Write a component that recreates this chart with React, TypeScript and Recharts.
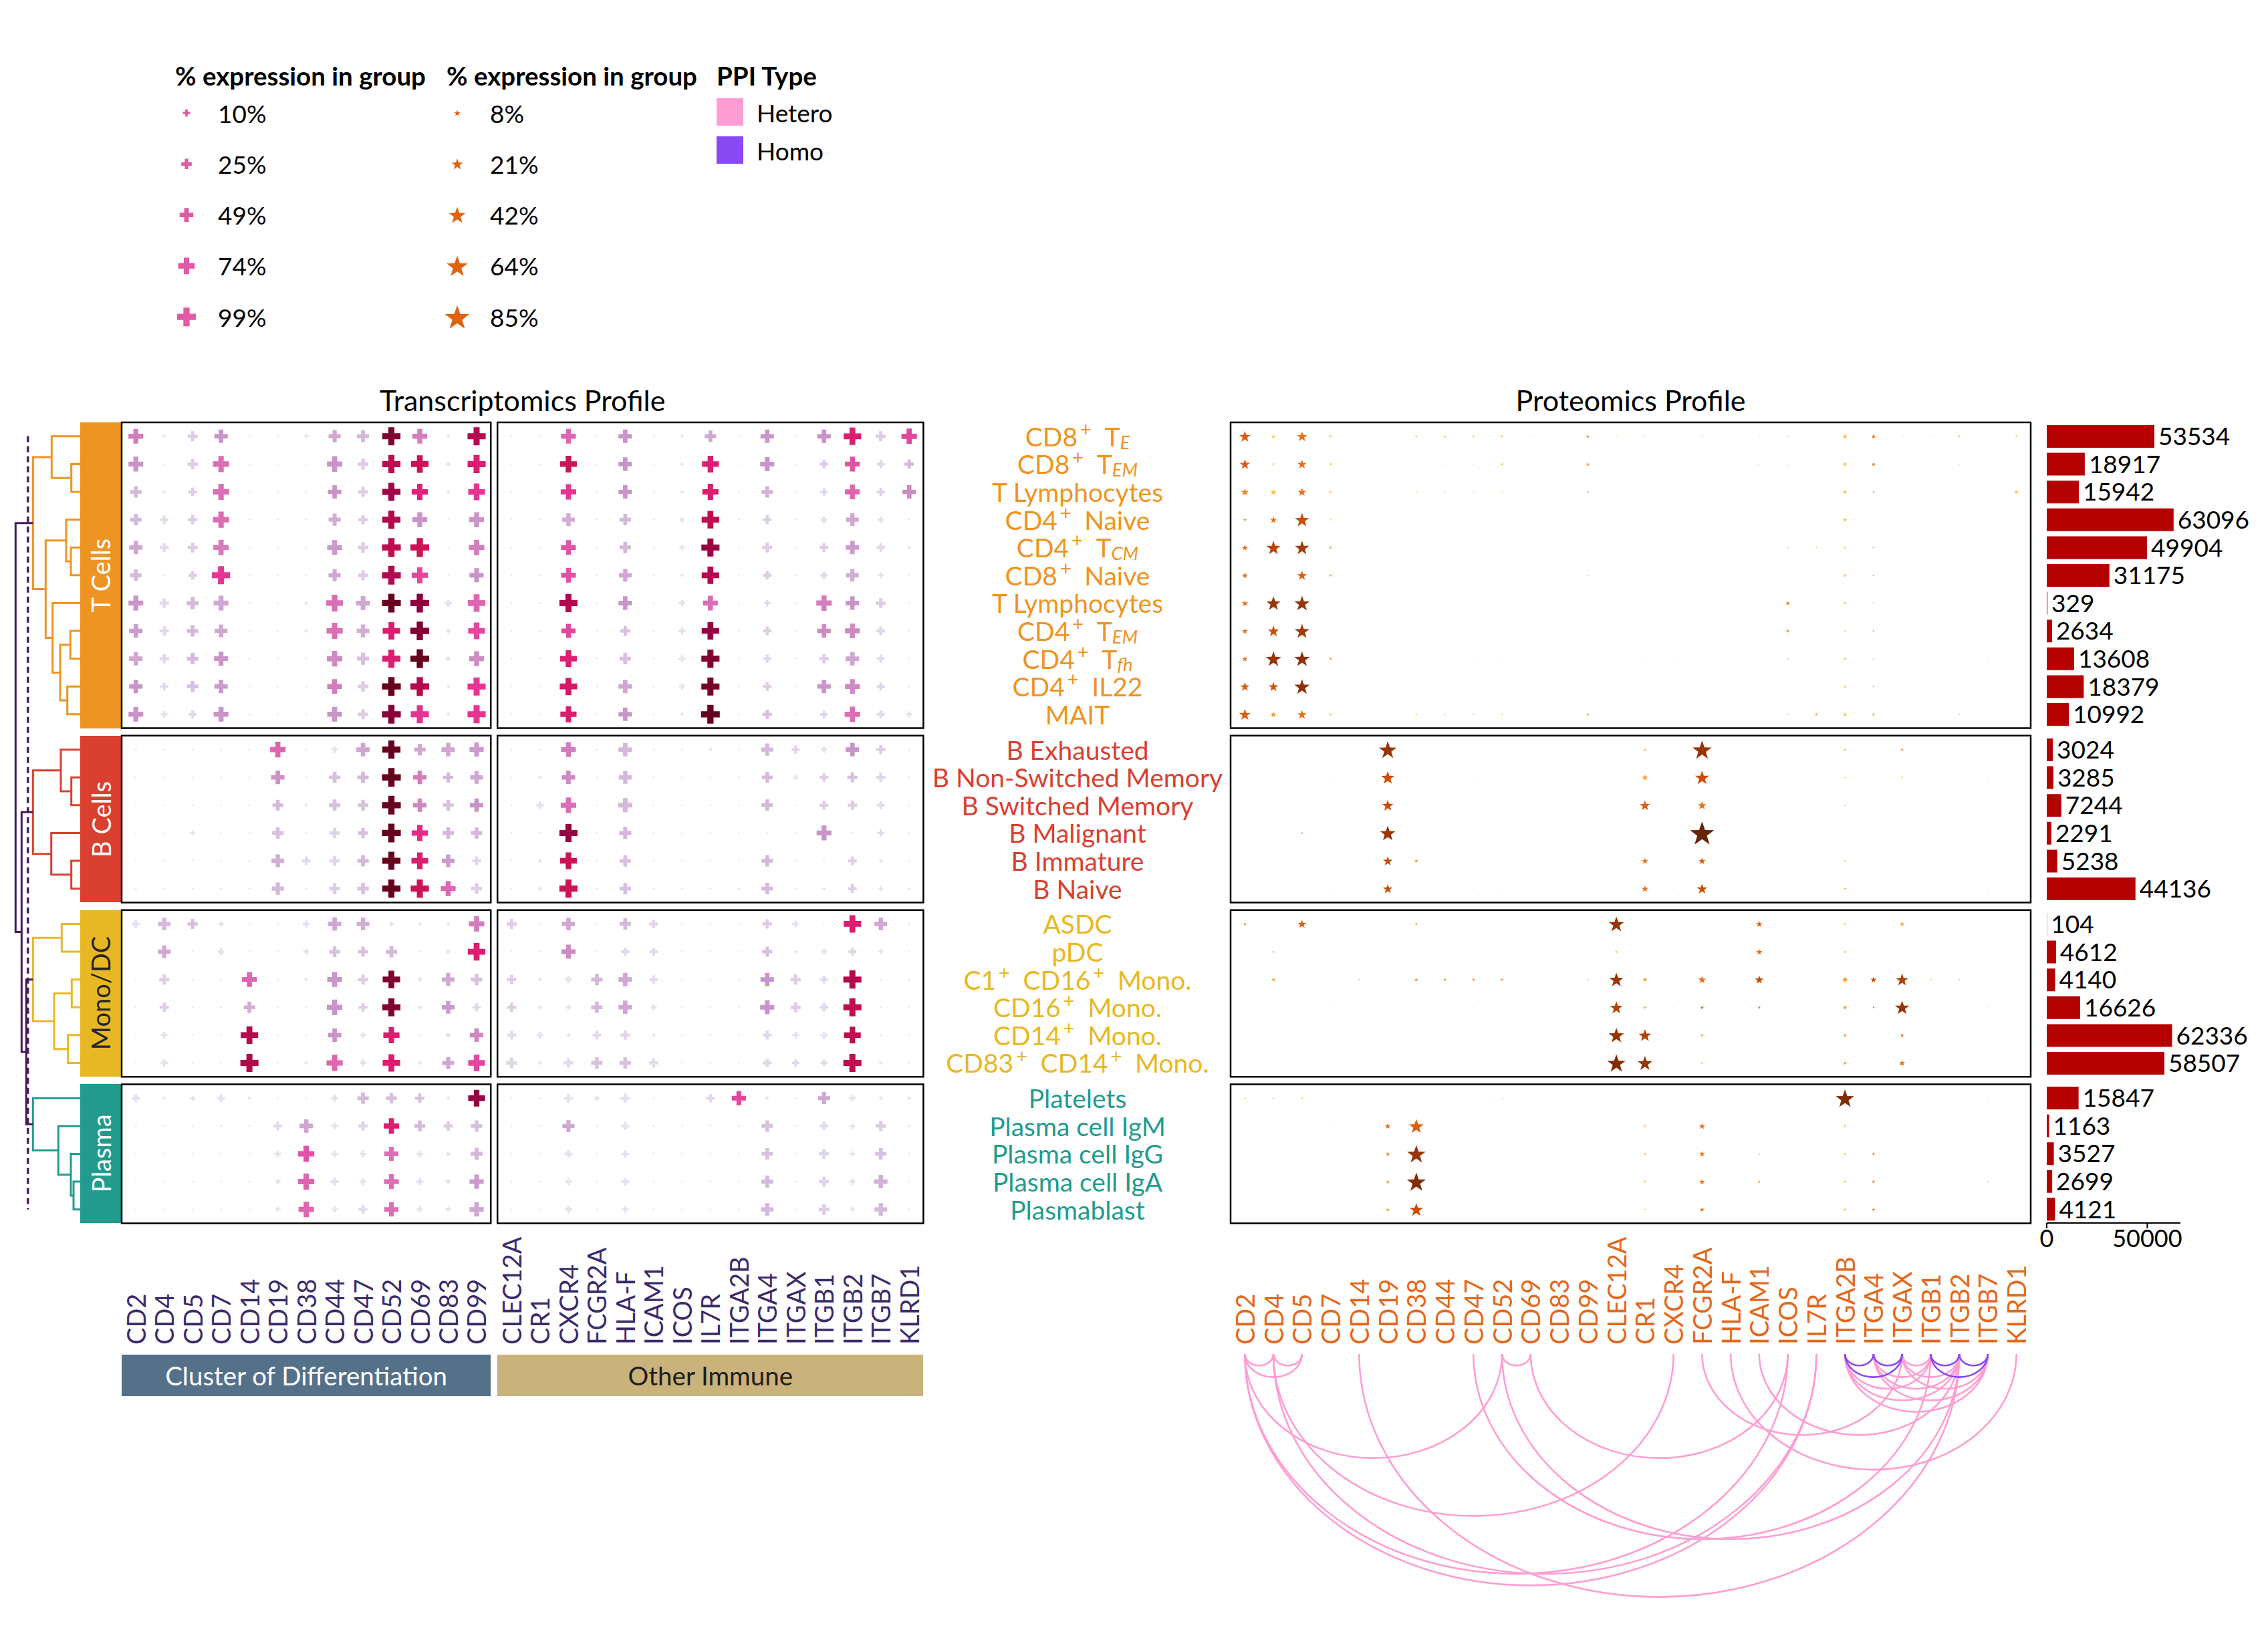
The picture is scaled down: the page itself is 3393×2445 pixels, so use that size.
import React from "react";
import { ScatterChart, Scatter, XAxis, YAxis, ReferenceArea, ReferenceLine, BarChart, Bar, LabelList } from "recharts";

const FONT = "Lato, 'Open Sans', sans-serif";

// ---------- categories ----------
const cdGenes = ["CD2", "CD4", "CD5", "CD7", "CD14", "CD19", "CD38", "CD44", "CD47", "CD52", "CD69", "CD83", "CD99"];
const otherGenes = ["CLEC12A", "CR1", "CXCR4", "FCGR2A", "HLA-F", "ICAM1", "ICOS", "IL7R", "ITGA2B", "ITGA4", "ITGAX", "ITGB1", "ITGB2", "ITGB7", "KLRD1"];
const genes = [...cdGenes, ...otherGenes];

const groupNames = ["T Cells", "B Cells", "Mono/DC", "Plasma"];
const groupSizes = [11, 6, 6, 5];
const groupColors = ["#ee9422", "#d94030", "#e8b824", "#229b8e"];
const groupTextColors = ["#ffffff", "#ffffff", "#262626", "#ffffff"];

// {x} = superscript, [x] = subscript
const cellTypes = [
  "CD8{+}\u2002T[E]", "CD8{+}\u2002T[EM]", "T Lymphocytes", "CD4{+}\u2002Naive", "CD4{+}\u2002T[CM]", "CD8{+}\u2002Naive",
  "T Lymphocytes", "CD4{+}\u2002T[EM]", "CD4{+}\u2002T[fh]", "CD4{+}\u2002IL22", "MAIT",
  "B Exhausted", "B Non-Switched Memory", "B Switched Memory", "B Malignant", "B Immature", "B Naive",
  "ASDC", "pDC", "C1{+}\u2002CD16{+}\u2002Mono.", "CD16{+}\u2002Mono.", "CD14{+}\u2002Mono.", "CD83{+}\u2002CD14{+}\u2002Mono.",
  "Platelets", "Plasma cell IgM", "Plasma cell IgG", "Plasma cell IgA", "Plasmablast",
];

const cellCounts = [53534, 18917, 15942, 63096, 49904, 31175, 329, 2634, 13608, 18379, 10992,
  3024, 3285, 7244, 2291, 5238, 44136,
  104, 4612, 4140, 16626, 62336, 58507,
  15847, 1163, 3527, 2699, 4121];

// ---------- transcriptomics: % expression in group ----------
const rnaPctT = [
  [58, 1, 23, 46, 0, 0, 3, 36, 36, 92, 58, 1, 92, 0, 0, 58, 0, 46, 0, 1, 31, 0, 46, 0, 46, 85, 23, 64],
  [58, 0, 23, 71, 0, 0, 0, 64, 27, 92, 85, 3, 92, 0, 0, 77, 0, 46, 0, 1, 77, 0, 52, 0, 16, 58, 13, 19],
  [31, 1, 16, 71, 0, 0, 0, 46, 23, 92, 71, 1, 77, 0, 0, 64, 0, 46, 0, 1, 71, 0, 31, 0, 10, 58, 13, 46],
  [31, 13, 19, 71, 0, 0, 0, 36, 19, 92, 58, 0, 58, 0, 0, 41, 0, 31, 0, 4, 85, 0, 16, 0, 8, 41, 8, 0],
  [46, 16, 23, 64, 0, 0, 0, 58, 27, 99, 99, 0, 64, 0, 0, 58, 0, 31, 0, 4, 92, 0, 23, 0, 16, 46, 16, 1],
  [31, 0, 16, 92, 0, 0, 0, 36, 23, 99, 71, 0, 52, 0, 0, 58, 0, 41, 0, 1, 85, 0, 16, 0, 10, 41, 6, 0],
  [58, 19, 36, 58, 0, 0, 1, 77, 52, 99, 99, 10, 85, 0, 0, 92, 0, 46, 0, 6, 58, 0, 8, 0, 64, 46, 23, 0],
  [46, 19, 31, 41, 0, 0, 1, 71, 41, 85, 99, 3, 77, 0, 0, 52, 0, 23, 0, 10, 85, 0, 16, 0, 46, 58, 16, 0],
  [46, 19, 31, 52, 0, 0, 0, 64, 36, 92, 99, 3, 58, 0, 0, 77, 0, 31, 0, 8, 92, 0, 13, 0, 19, 46, 13, 0],
  [46, 13, 31, 46, 0, 0, 0, 58, 27, 99, 99, 1, 92, 0, 0, 85, 0, 46, 0, 6, 92, 0, 16, 0, 46, 58, 13, 0],
  [58, 8, 13, 58, 0, 0, 0, 58, 23, 99, 92, 1, 92, 0, 0, 71, 0, 46, 0, 1, 99, 0, 19, 0, 10, 64, 13, 6],
];
const rnaPctB = [
  [0, 0, 0, 0, 0, 64, 0, 8, 46, 92, 31, 46, 52, 0, 0, 58, 0, 46, 0, 0, 1, 0, 36, 13, 8, 46, 19, 0],
  [0, 0, 0, 0, 0, 46, 0, 31, 31, 99, 46, 23, 41, 0, 1, 46, 0, 41, 0, 0, 0, 0, 27, 4, 16, 23, 19, 0],
  [0, 0, 0, 0, 0, 27, 1, 31, 27, 99, 46, 27, 46, 0, 10, 64, 0, 52, 0, 0, 0, 0, 31, 0, 16, 19, 13, 0],
  [0, 0, 4, 0, 0, 31, 0, 23, 23, 99, 71, 31, 31, 0, 0, 92, 0, 36, 0, 0, 0, 0, 0, 0, 58, 0, 8, 0],
  [0, 0, 0, 0, 0, 41, 16, 23, 31, 92, 77, 41, 16, 0, 1, 77, 0, 31, 0, 0, 0, 0, 31, 0, 0, 16, 1, 0],
  [0, 0, 0, 0, 0, 36, 0, 27, 31, 92, 92, 58, 27, 0, 1, 92, 0, 31, 0, 0, 0, 0, 31, 0, 1, 16, 3, 0],
];
const rnaPctMono = [
  [13, 41, 23, 4, 0, 0, 8, 46, 41, 3, 1, 1, 64, 23, 0, 41, 0, 31, 16, 0, 0, 0, 19, 8, 0, 85, 41, 0],
  [0, 41, 0, 8, 0, 0, 6, 27, 23, 31, 0, 3, 85, 0, 0, 52, 0, 13, 13, 0, 0, 0, 23, 1, 6, 13, 3, 0],
  [0, 23, 0, 0, 58, 0, 1, 58, 23, 85, 3, 41, 31, 19, 1, 10, 31, 46, 13, 0, 0, 0, 46, 23, 13, 92, 0, 0],
  [0, 19, 0, 0, 31, 0, 0, 64, 16, 92, 1, 41, 13, 19, 1, 4, 31, 46, 6, 0, 0, 0, 52, 23, 16, 92, 0, 0],
  [0, 8, 0, 0, 85, 0, 0, 46, 4, 71, 0, 4, 46, 16, 8, 1, 16, 19, 1, 0, 0, 0, 16, 8, 10, 77, 0, 0],
  [0, 10, 0, 0, 92, 0, 1, 71, 8, 85, 1, 36, 77, 27, 1, 19, 31, 31, 19, 0, 0, 0, 16, 10, 8, 92, 1, 0],
];
const rnaPctPlasma = [
  [13, 1, 4, 13, 1, 0, 0, 10, 31, 27, 19, 1, 77, 0, 0, 16, 4, 19, 0, 0, 16, 52, 1, 0, 36, 8, 1, 1],
  [0, 0, 0, 0, 0, 16, 46, 8, 19, 64, 27, 19, 31, 0, 0, 36, 0, 13, 0, 0, 0, 0, 31, 0, 13, 4, 23, 0],
  [0, 0, 0, 0, 0, 8, 71, 8, 8, 52, 8, 3, 36, 0, 0, 13, 0, 10, 0, 0, 0, 0, 31, 0, 23, 4, 31, 0],
  [0, 0, 0, 0, 0, 4, 71, 13, 8, 58, 10, 4, 52, 0, 0, 8, 0, 13, 0, 0, 0, 0, 36, 0, 23, 6, 46, 0],
  [0, 0, 0, 0, 0, 4, 64, 6, 16, 52, 6, 4, 52, 0, 0, 10, 0, 8, 0, 0, 0, 0, 41, 0, 27, 3, 41, 0],
];

// ---------- transcriptomics: scaled average expression (0-8) ----------
const rnaExprT = [
  [3.5, 1, 1.5, 3, .5, .5, 1, 2.5, 2, 7.5, 3.5, 1, 6.5, .5, .5, 4, .5, 3, .5, 1, 2.5, .5, 3, .5, 3, 5.5, 1.5, 4.5],
  [3, .5, 1.5, 3.8, .5, .5, .5, 3, 1.5, 6.3, 6, 1, 5.5, .5, .5, 6, .5, 3, .5, 1, 5.5, .5, 3, .5, 1.5, 4.3, 1.3, 2],
  [2, 1, 1.5, 3.8, .5, .5, .5, 3, 1.5, 6.8, 5.3, 1, 4.8, .5, .5, 4.8, .5, 3, .5, 1, 5.5, .5, 2.2, .5, 1.3, 4, 1.3, 3.2],
  [2, 1.2, 1.5, 3.8, .5, .5, .5, 2.3, 1.5, 6.5, 3, .5, 3, .5, .5, 2.3, .5, 2, .5, 1, 6.3, .5, 1.5, .5, 1.2, 2.5, 1, .5],
  [2.5, 1.2, 1.5, 3.5, .5, .5, .5, 2.8, 1.5, 6.3, 6, .5, 3.5, .5, .5, 4.3, .5, 2, .5, 1, 7, .5, 1.5, .5, 1.5, 2.8, 1.2, 1],
  [2, .5, 1.5, 4.8, .5, .5, .5, 2.5, 1.5, 6.5, 4.5, .5, 3, .5, .5, 4.3, .5, 2.5, .5, 1, 6.5, .5, 1.5, .5, 1.2, 2.3, 1, .5],
  [3, 1.2, 2, 2.5, .5, .5, 1, 3.8, 2.5, 8, 7.2, 1, 4, .5, .5, 6.5, .5, 3, .5, 1, 3.8, .5, 1.2, .5, 3.5, 3, 1.5, .5],
  [2.8, 1.2, 2, 2.5, .5, .5, 1, 3.8, 2.3, 5.5, 7.5, 1, 4.5, .5, .5, 4.5, .5, 1.8, .5, 1, 7, .5, 1.5, .5, 3.2, 3.2, 1.3, .5],
  [2.5, 1.2, 2, 3, .5, .5, .5, 3.2, 1.8, 5.5, 8, 1, 3.2, .5, .5, 5.5, .5, 1.8, .5, 1, 7.5, .5, 1.3, .5, 1.5, 2.5, 1.2, .5],
  [3, 1.2, 1.8, 2.8, .5, .5, .5, 3.5, 1.5, 8.2, 6.5, 1, 4.8, .5, .5, 5.7, .5, 2.5, .5, 1, 7.7, .5, 1.5, .5, 3, 3.2, 1.3, .5],
  [3, 1, 1.3, 3, .5, .5, .5, 3, 1.5, 7.3, 4.8, 1, 4.8, .5, .5, 5.5, .5, 3, .5, 1, 8.3, .5, 1.8, .5, 1.3, 3.8, 1.2, 1],
];
const rnaExprB = [
  [.5, .5, .5, .5, .5, 4, .5, 1, 2.5, 8.5, 2.5, 2.5, 2.8, .5, .5, 3.5, .5, 2, .5, .5, 1, .5, 2, 1.3, 1, 3, 1.5, .5],
  [.5, .5, .5, .5, .5, 3, .5, 1.8, 2, 8.5, 3.5, 2, 2.5, .5, 1, 3.2, .5, 2, .5, .5, .5, .5, 2, 1, 1.5, 1.8, 1.3, .5],
  [.5, .5, .5, .5, .5, 2, .5, 1.8, 1.8, 8.5, 3.3, 1.8, 3, .5, 1, 3.8, .5, 2, .5, .5, .5, .5, 2, .5, 1.5, 1.5, 1.2, .5],
  [.5, .5, 1, .5, .5, 1.8, .5, 1.3, 1.8, 8.5, 5, 2, 2, .5, .5, 7, .5, 2, .5, .5, .5, .5, .5, .5, 3, .5, 1.2, .5],
  [.5, .5, .5, .5, .5, 2.3, 1.2, 1.3, 2, 8.5, 5.5, 2.8, 1.3, .5, 1, 6, .5, 1.8, .5, .5, .5, .5, 2, .5, .5, 1.5, 1, .5],
  [.5, .5, .5, .5, .5, 2, .5, 1.5, 1.8, 8.5, 6, 4, 1.5, .5, 1, 6, .5, 1.8, .5, .5, .5, .5, 2, .5, 1, 1.5, 1, .5],
];
const rnaExprMono = [
  [1, 2, 1.8, 1, .5, .5, 1, 2.5, 2.3, 1, 1, 1, 3.5, 1.5, .5, 2.5, .5, 2, 1.3, .5, .5, .5, 1.5, 1, .5, 5.5, 2.5, .5],
  [.5, 2.5, .5, 1, .5, .5, 1, 1.8, 1.8, 2, .5, 1, 5.5, .5, .5, 3.2, .5, 1.3, 1.2, .5, .5, .5, 1.8, 1, 1, 1.3, 1, .5],
  [.5, 1.5, .5, .5, 4, .5, 1, 3, 1.5, 7.5, 1, 2.5, 1.8, 1.5, 1, 1, 2, 2.5, 1.2, .5, .5, .5, 3, 1.5, 1.2, 6.5, .5, .5],
  [.5, 1.5, .5, .5, 2.3, .5, .5, 3, 1.5, 7.5, 1, 2.8, 1.2, 1.5, 1, 1, 2, 2.5, 1, .5, .5, .5, 3, 1.5, 1.2, 6.3, .5, .5],
  [.5, 1, .5, .5, 6.5, .5, .5, 3, 1, 5.5, .5, 1, 3.3, 1.2, 1, 1, 1.2, 1.3, 1, .5, .5, .5, 1.3, 1, 1, 6.3, .5, .5],
  [.5, 1, .5, .5, 6.5, .5, 1, 4, 1, 5.5, 1, 2.5, 4.5, 1.3, 1, 1.2, 1.8, 1.8, 1.2, .5, .5, .5, 1.3, 1.2, 1.2, 6.3, 1, .5],
];
const rnaExprPlasma = [
  [1, 1, 1, 1, 1, .5, .5, 1, 2, 1.8, 1.8, 1, 7, .5, .5, 1, 1, 1, .5, .5, 1.2, 4.5, 1, .5, 2.5, 1, 1, 1],
  [.5, .5, .5, .5, .5, 1.2, 2.5, 1, 1.3, 5.5, 2, 1.5, 1.8, .5, .5, 2.5, .5, 1, .5, .5, .5, .5, 1.8, .5, 1.2, 1, 1.5, .5],
  [.5, .5, .5, .5, .5, 1, 4.3, 1, 1, 3.8, 1, 1, 2, .5, .5, 1, .5, 1, .5, .5, .5, .5, 1.8, .5, 1.3, 1, 1.8, .5],
  [.5, .5, .5, .5, .5, 1, 4, 1, 1, 3.8, 1, 1, 2.8, .5, .5, 1, .5, 1, .5, .5, .5, .5, 2, .5, 1.3, 1, 2.2, .5],
  [.5, .5, .5, .5, .5, 1, 4, 1, 1.2, 3.8, 1, 1, 2.5, .5, .5, 1, .5, 1, .5, .5, .5, .5, 2, .5, 1.5, 1, 2, .5],
];

// ---------- proteomics: % expression in group ----------
const protPctT = [
  [21, 5, 18, 3, 1, 1, 3, 3, 3, 3, 2, 1, 4, 2, 2, 1, 2, 1, 2, 2, 1, 7, 5, 2, 2, 3, 1, 3],
  [18, 3, 15, 3, 1, 1, 2, 2, 2, 3, 1, 1, 4, 1, 1, 1, 1, 1, 2, 2, 2, 5, 4, 1, 1, 2, 1, 2],
  [11, 8, 13, 3, 1, 1, 2, 2, 2, 2, 1, 1, 2, 1, 1, 1, 1, 1, 1, 1, 1, 5, 2, 1, 1, 1, 1, 5],
  [3, 9, 31, 2, 1, 1, 1, 1, 1, 1, 1, 1, 1, 1, 1, 1, 1, 1, 1, 1, 1, 5, 1, 1, 1, 1, 1, 1],
  [8, 31, 31, 3, 1, 1, 1, 1, 1, 1, 1, 1, 1, 1, 1, 1, 1, 1, 1, 2, 2, 3, 2, 1, 1, 1, 1, 1],
  [8, 1, 16, 3, 1, 1, 1, 1, 1, 1, 1, 1, 2, 1, 1, 1, 1, 1, 1, 1, 1, 4, 2, 1, 1, 1, 1, 1],
  [8, 31, 36, 1, 1, 1, 1, 1, 1, 1, 1, 1, 1, 1, 1, 1, 1, 1, 1, 5, 1, 3, 2, 1, 1, 1, 1, 1],
  [7, 21, 33, 1, 1, 1, 1, 1, 1, 1, 1, 1, 1, 1, 1, 1, 1, 1, 1, 4, 1, 2, 2, 1, 1, 1, 1, 1],
  [7, 36, 36, 3, 1, 1, 1, 1, 1, 1, 1, 1, 1, 1, 1, 1, 1, 1, 1, 2, 1, 3, 2, 1, 1, 1, 1, 1],
  [15, 16, 36, 1, 1, 1, 1, 1, 1, 1, 1, 1, 1, 1, 1, 1, 1, 1, 1, 1, 1, 3, 2, 1, 1, 1, 1, 1],
  [21, 8, 15, 3, 1, 1, 2, 2, 2, 2, 1, 1, 3, 1, 1, 1, 1, 1, 1, 2, 3, 5, 3, 1, 1, 2, 1, 1],
];
const protPctB = [
  [1, 1, 1, 1, 1, 46, 1, 1, 1, 1, 1, 1, 1, 1, 3, 1, 53, 1, 1, 1, 1, 3, 1, 3, 1, 1, 1, 1],
  [1, 1, 1, 1, 1, 28, 1, 1, 1, 1, 1, 1, 1, 1, 8, 1, 31, 1, 1, 1, 1, 2, 1, 2, 1, 1, 1, 1],
  [1, 1, 1, 1, 1, 21, 1, 1, 1, 1, 1, 1, 1, 1, 18, 1, 13, 1, 1, 1, 1, 2, 1, 1, 1, 1, 1, 1],
  [1, 1, 2, 1, 1, 36, 1, 1, 1, 1, 1, 1, 1, 1, 1, 1, 82, 1, 1, 1, 1, 1, 1, 1, 1, 1, 1, 1],
  [1, 1, 1, 1, 1, 16, 4, 1, 1, 1, 1, 1, 1, 1, 8, 1, 9, 1, 1, 1, 1, 2, 1, 1, 1, 1, 1, 1],
  [1, 1, 1, 1, 1, 16, 1, 1, 1, 1, 1, 1, 1, 1, 9, 1, 18, 1, 1, 1, 1, 3, 1, 1, 1, 1, 1, 1],
];
const protPctMono = [
  [3, 1, 13, 1, 1, 1, 3, 1, 1, 1, 1, 1, 1, 36, 1, 1, 1, 1, 8, 1, 1, 3, 1, 5, 1, 1, 1, 1],
  [1, 2, 1, 1, 1, 1, 1, 1, 1, 1, 1, 1, 1, 3, 1, 1, 1, 1, 8, 1, 1, 3, 1, 1, 1, 1, 1, 1],
  [1, 4, 1, 1, 2, 1, 4, 3, 3, 3, 1, 1, 2, 31, 5, 1, 11, 1, 13, 1, 1, 8, 7, 25, 2, 2, 1, 1],
  [1, 1, 1, 1, 1, 1, 1, 1, 1, 1, 1, 1, 1, 25, 3, 1, 4, 1, 3, 1, 1, 5, 2, 31, 1, 1, 1, 1],
  [1, 1, 1, 1, 1, 1, 1, 1, 1, 1, 1, 1, 1, 36, 25, 1, 3, 1, 1, 1, 1, 4, 1, 4, 1, 1, 1, 1],
  [1, 1, 1, 1, 1, 1, 1, 1, 1, 1, 1, 1, 1, 49, 33, 1, 2, 1, 1, 1, 1, 4, 1, 8, 1, 1, 1, 1],
];
const protPctPlasma = [
  [2, 2, 3, 1, 1, 1, 1, 1, 1, 2, 1, 1, 1, 1, 1, 1, 1, 1, 1, 1, 1, 49, 1, 1, 1, 1, 1, 1],
  [1, 1, 1, 1, 1, 7, 33, 1, 1, 1, 1, 1, 1, 1, 3, 1, 8, 1, 1, 1, 1, 3, 1, 1, 1, 1, 1, 1],
  [1, 1, 1, 1, 1, 5, 49, 1, 1, 1, 1, 1, 1, 1, 3, 1, 7, 1, 2, 1, 1, 3, 3, 1, 1, 1, 1, 1],
  [1, 1, 1, 1, 1, 4, 53, 1, 1, 1, 1, 1, 1, 1, 3, 1, 7, 1, 3, 1, 1, 3, 3, 1, 1, 1, 2, 1],
  [1, 1, 1, 1, 1, 4, 28, 1, 1, 1, 1, 1, 1, 1, 2, 1, 5, 1, 1, 1, 1, 3, 3, 1, 1, 1, 1, 1],
];

// ---------- proteomics: scaled average expression (0-8) ----------
const protExprT = [
  [5.5, 3, 5, 3, 2, 2, 3, 3, 3, 3, 2, 2, 4, 2, 2, 2, 2, 2, 2, 3, 2, 3, 5, 2, 2, 3, 2, 2.5],
  [5.5, 2.5, 5, 3, 2, 2, 2, 2, 2, 3, 2, 2, 4, 2, 2, 2, 2, 2, 2, 2, 2, 3, 5, 2, 2, 2, 2, 2],
  [4.5, 3, 5, 3, 2, 2, 2, 2, 2, 2, 2, 2, 4, 2, 2, 2, 2, 2, 2, 2, 2, 3, 4, 2, 2, 2, 2, 3],
  [4.5, 5, 6, 3, 2, 2, 2, 2, 2, 2, 2, 2, 2, 2, 2, 2, 2, 2, 2, 2, 2, 3, 2, 2, 2, 2, 2, 2],
  [5, 6.3, 6.8, 4, 2, 2, 2, 2, 2, 2, 2, 2, 2, 2, 2, 2, 2, 2, 2, 3, 3, 3, 4, 2, 2, 2, 2, 2],
  [5, 2, 5.5, 4, 2, 2, 2, 2, 2, 2, 2, 2, 3, 2, 2, 2, 2, 2, 2, 2, 2, 3, 4, 2, 2, 2, 2, 2],
  [5, 7, 7, 2, 2, 2, 2, 2, 2, 2, 2, 2, 2, 2, 2, 2, 2, 2, 2, 4.5, 2, 3, 3, 2, 2, 2, 2, 2],
  [5, 6, 6.8, 2, 2, 2, 2, 2, 2, 2, 2, 2, 2, 2, 2, 2, 2, 2, 2, 4, 2, 3, 4, 2, 2, 2, 2, 2],
  [5, 7, 7.2, 4, 2, 2, 2, 2, 2, 2, 2, 2, 2, 2, 2, 2, 2, 2, 2, 3, 2, 3, 3, 2, 2, 2, 2, 2],
  [5.5, 5.8, 7.2, 2, 2, 2, 2, 2, 2, 2, 2, 2, 2, 2, 2, 2, 2, 2, 2, 2, 2, 3, 4, 2, 2, 2, 2, 2],
  [5.5, 4, 5, 3, 2, 2, 3, 3, 3, 3, 2, 2, 4, 2, 2, 2, 2, 2, 2, 3, 4, 3, 4, 2, 2, 3, 2, 2],
];
const protExprB = [
  [2, 2, 2, 2, 2, 7, 2, 2, 2, 2, 2, 2, 2, 2, 3, 2, 7, 2, 2, 2, 2, 3, 2, 4, 2, 2, 2, 2],
  [2, 2, 2, 2, 2, 6, 2, 2, 2, 2, 2, 2, 2, 2, 4, 2, 6, 2, 2, 2, 2, 3, 2, 3, 2, 2, 2, 2],
  [2, 2, 2, 2, 2, 6, 2, 2, 2, 2, 2, 2, 2, 2, 5.5, 2, 5, 2, 2, 2, 2, 3, 2, 2, 2, 2, 2, 2],
  [2, 2, 5, 2, 2, 7, 2, 2, 2, 2, 2, 2, 2, 2, 2, 2, 8.5, 2, 2, 2, 2, 2, 2, 2, 2, 2, 2, 2],
  [2, 2, 2, 2, 2, 6, 4, 2, 2, 2, 2, 2, 2, 2, 5, 2, 5.5, 2, 2, 2, 2, 3, 2, 2, 2, 2, 2, 2],
  [2, 2, 2, 2, 2, 6, 2, 2, 2, 2, 2, 2, 2, 2, 5, 2, 6, 2, 2, 2, 2, 3, 2, 2, 2, 2, 2, 2],
];
const protExprMono = [
  [5, 2, 5.5, 2, 2, 2, 4, 2, 2, 2, 2, 2, 2, 7, 2, 2, 2, 2, 5.5, 2, 2, 3, 2, 4, 2, 2, 2, 2],
  [2, 4, 2, 2, 2, 2, 2, 2, 2, 2, 2, 2, 2, 3, 2, 2, 2, 2, 5, 2, 2, 3, 2, 2, 2, 2, 2, 2],
  [2, 4, 2, 2, 3, 2, 4, 4, 4, 4, 2, 2, 3, 7, 4, 2, 5, 2, 6, 2, 2, 4, 6, 6.5, 3, 3, 2, 2],
  [2, 2, 2, 2, 2, 2, 2, 2, 2, 2, 2, 2, 2, 6.5, 4, 2, 5, 2, 5, 2, 2, 4, 5, 7, 2, 2, 2, 2],
  [2, 2, 2, 2, 2, 2, 2, 2, 2, 2, 2, 2, 2, 7, 6.5, 2, 4, 2, 2, 2, 2, 4, 2, 5, 2, 2, 2, 2],
  [2, 2, 2, 2, 2, 2, 2, 2, 2, 2, 2, 2, 2, 7.5, 7, 2, 4, 2, 2, 2, 2, 4, 2, 5, 2, 2, 2, 2],
];
const protExprPlasma = [
  [3, 3, 2.5, 2, 2, 2, 2, 2, 2, 2, 2, 2, 2, 2, 2, 2, 2, 2, 2, 2, 2, 7.5, 2, 2, 2, 2, 2, 2],
  [2, 2, 2, 2, 2, 5, 5.5, 2, 2, 2, 2, 2, 2, 2, 3, 2, 5, 2, 2, 2, 2, 3, 2, 2, 2, 2, 2, 2],
  [2, 2, 2, 2, 2, 4.5, 7, 2, 2, 2, 2, 2, 2, 2, 3, 2, 5, 2, 3, 2, 2, 3, 5, 2, 2, 2, 2, 2],
  [2, 2, 2, 2, 2, 4, 7.5, 2, 2, 2, 2, 2, 2, 2, 3, 2, 5, 2, 4, 2, 2, 3, 5, 2, 2, 2, 3, 2],
  [2, 2, 2, 2, 2, 4, 6, 2, 2, 2, 2, 2, 2, 2, 3, 2, 5, 2, 2, 2, 2, 3, 5, 2, 2, 2, 2, 2],
];

// ---------- dendrogram: [merge height, left, right], leaves are row indices ----------
const treeT = [70.7, [42.7, 0, [13.3, 1, 2]], [51.7, [21, 3, [14, 4, 5]], [41.3, 6, [30, [14.7, 7, 8], [19.3, 9, 10]]]]];
const treeB = [70.7, [29, 11, [13.3, 12, 13]], [43.3, 14, [13.3, 15, 16]]];
const treeMono = [70.7, [27.7, 17, 18], [39, [12.7, 19, 20], [18.3, 21, 22]]];
const treePlasma = [70.7, 23, [32.7, 24, [14, 25, [10, 26, 27]]]];
const dendrogram = [96.7, treeT, [87.7, treeB, [80.7, treeMono, treePlasma]]];
const cutHeight = 78.3;

// ---------- protein-protein interactions ----------
const ppiHetero = [
  ["CD2", "CD4"], ["CD4", "CD5"], ["CD2", "CD5"], ["CD52", "CD69"], ["CD2", "CD52"], ["CD69", "ICOS"],
  ["CD4", "CXCR4"], ["FCGR2A", "ITGAX"], ["ICAM1", "ITGB2"], ["HLA-F", "KLRD1"], ["CD47", "ITGB1"],
  ["CD52", "ITGB2"], ["CD2", "ICOS"], ["CD4", "IL7R"], ["CD2", "IL7R"], ["CD14", "ITGB2"],
  ["ITGA2B", "ITGB1"], ["ITGA2B", "ITGB2"], ["ITGA2B", "ITGB7"], ["ITGA4", "ITGB1"], ["ITGA4", "ITGB2"],
  ["ITGA4", "ITGB7"], ["ITGAX", "ITGB1"], ["ITGAX", "ITGB2"], ["ITGAX", "ITGB7"],
];
const ppiHomo = [["ITGA2B", "ITGA4"], ["ITGA4", "ITGAX"], ["ITGA2B", "ITGAX"], ["ITGB1", "ITGB2"], ["ITGB2", "ITGB7"], ["ITGB1", "ITGB7"]];

// ---------- legend values ----------
const rnaLegendPct = [10, 25, 49, 74, 99];
const protLegendPct = [8, 21, 42, 64, 85];

// ---------- layout ----------
const BAND = 41.6;
const GAP = 0.27;
const TOP = 632;
const Y_DOMAIN = [-0.5, 27.5 + 3 * GAP];
const PLOT_H = (Y_DOMAIN[1] - Y_DOMAIN[0]) * BAND;
const RNA_LEFT = 182;
const RNA_COL = 42.48;
const RNA_SPLIT = 0.235;
const RNA_DOMAIN = [-0.5, 27.5 + RNA_SPLIT];
const RNA_W = (RNA_DOMAIN[1] - RNA_DOMAIN[0]) * RNA_COL;
const PROT_LEFT = 1841;
const PROT_W = 1197;
const LABEL_X = 1612;
const AXIS_LABEL_BOTTOM = 2012;
const BAR_LEFT = 3062;
const BAR_PAD = 30;

const rowPos: number[] = [];
const groupOfRow: number[] = [];
groupSizes.forEach((n, gi) => {
  for (let k = 0; k < n; k++) {
    rowPos.push(rowPos.length + gi * GAP);
    groupOfRow.push(gi);
  }
});
const groupFirst = groupSizes.map((_, gi) => groupSizes.slice(0, gi).reduce((a, b) => a + b, 0));
const groupTop = groupFirst.map((f) => TOP + rowPos[f] * BAND);

const rnaX = genes.map((_, g) => (g < cdGenes.length ? g : g + RNA_SPLIT));
const protX = genes.map((_, g) => g);

const rnaPct = [...rnaPctT, ...rnaPctB, ...rnaPctMono, ...rnaPctPlasma];
const rnaExpr = [...rnaExprT, ...rnaExprB, ...rnaExprMono, ...rnaExprPlasma];
const protPct = [...protPctT, ...protPctB, ...protPctMono, ...protPctPlasma];
const protExpr = [...protExprT, ...protExprB, ...protExprMono, ...protExprPlasma];

const rnaPoints = rnaPct.flatMap((row, r) => row.map((p, g) => ({ x: rnaX[g], y: rowPos[r], pct: p, expr: rnaExpr[r][g] })));
const protPoints = protPct.flatMap((row, r) => row.map((p, g) => ({ x: protX[g], y: rowPos[r], pct: p, expr: protExpr[r][g] })));

// ---------- colours and marks ----------
const PuRd = ["#f7f4f9", "#e7e1ef", "#d4b9da", "#c994c7", "#df65b0", "#e7298a", "#ce1256", "#980043", "#67001f"];
const YlOrBr = ["#ffffe5", "#fff7bc", "#fee391", "#fec44f", "#fe9929", "#ec7014", "#cc4c02", "#993404", "#662506"];
const HETERO = "#ff9dd2";
const HOMO = "#8a4af3";
const ROOT_COLOR = "#44195c";

function ramp(stops: string[], v: number) {
  const t = Math.max(0, Math.min(stops.length - 1, v));
  const i = Math.min(stops.length - 2, Math.floor(t));
  const f = t - i;
  const a = stops[i], b = stops[i + 1];
  const ch = (s: string, k: number) => parseInt(s.slice(1 + 2 * k, 3 + 2 * k), 16);
  const c = [0, 1, 2].map((k) => Math.round(ch(a, k) + (ch(b, k) - ch(a, k)) * f));
  return `rgb(${c[0]},${c[1]},${c[2]})`;
}

const plusExtent = (p: number) => 3.1 + 25 * Math.sqrt(p / 100);
const starExtent = (p: number) => Math.max(2, -2.5 + 40.7 * Math.sqrt(p / 100));

function plusPath(cx: number, cy: number, s: number) {
  const h = s / 2, t = s / 6;
  const pts = [
    [-t, -h], [t, -h], [t, -t], [h, -t], [h, t], [t, t], [t, h], [-t, h], [-t, t], [-h, t], [-h, -t], [-t, -t],
  ];
  return "M" + pts.map(([dx, dy]) => `${(cx + dx).toFixed(2)},${(cy + dy).toFixed(2)}`).join("L") + "Z";
}

function starPath(cx: number, cy: number, ext: number) {
  const R = ext / 1.809;
  const r = R * 0.4;
  const oy = cy + 0.0955 * R;
  let d = "";
  for (let k = 0; k < 10; k++) {
    const ang = -Math.PI / 2 + (k * Math.PI) / 5;
    const rad = k % 2 === 0 ? R : r;
    d += (k === 0 ? "M" : "L") + (cx + rad * Math.cos(ang)).toFixed(2) + "," + (oy + rad * Math.sin(ang)).toFixed(2);
  }
  return d + "Z";
}

const PlusDot = (props: any) => {
  const { cx, cy, payload } = props;
  if (cx == null || cy == null) return <g />;
  return <path d={plusPath(cx, cy, plusExtent(payload.pct))} fill={ramp(PuRd, Math.max(1, payload.expr))} />;
};

const StarDot = (props: any) => {
  const { cx, cy, payload } = props;
  if (cx == null || cy == null) return <g />;
  return <path d={starPath(cx, cy, starExtent(payload.pct))} fill={ramp(YlOrBr, payload.expr)} />;
};

const NoDot = () => <g />;

// dendrogram segments
type Seg = { color: string; pts: { x: number; y: number }[] };
const dendroSegs: Seg[] = [];
function walk(node: any): { h: number; y: number; groups: Set<number> } {
  if (typeof node === "number") return { h: 0, y: rowPos[node], groups: new Set([groupOfRow[node]]) };
  const [h, a, b] = node;
  const L = walk(a);
  const R = walk(b);
  const groups = new Set([...L.groups, ...R.groups]);
  const color = groups.size === 1 ? groupColors[[...groups][0]] : ROOT_COLOR;
  dendroSegs.push({ color, pts: [{ x: L.h, y: L.y }, { x: h, y: L.y }, { x: h, y: R.y }, { x: R.h, y: R.y }] });
  return { h, y: (L.y + R.y) / 2, groups };
}
walk(dendrogram);

const arcLine = (color: string) => (props: any) => {
  const pts = props.points || [];
  if (pts.length < 2) return <g />;
  const a = pts[0].x < pts[1].x ? pts[0] : pts[1];
  const b = pts[0].x < pts[1].x ? pts[1] : pts[0];
  const rx = (b.x - a.x) / 2;
  return <path d={`M${a.x},${a.y} A${rx},${rx * 0.81} 0 0 0 ${b.x},${b.y}`} fill="none" stroke={color} strokeWidth={2.6} />;
};

function markup(label: string, fs: number) {
  const parts = label.split(/(\{[^}]*\}|\[[^\]]*\])/).filter((p) => p.length > 0);
  let shift = 0;
  return parts.map((p, i) => {
    let target = 0;
    let content = p;
    let extra: any = {};
    if (p[0] === "{") {
      target = -0.3 * fs;
      content = "\u2009" + p.slice(1, -1);
      extra = { fontSize: fs * 0.76 };
    } else if (p[0] === "[") {
      target = 0.2 * fs;
      content = p.slice(1, -1);
      extra = { fontSize: fs * 0.7, fontStyle: "italic" };
    }
    const dy = target - shift;
    shift = target;
    return (
      <tspan key={i} dy={dy} {...extra}>
        {content}
      </tspan>
    );
  });
}

const nearestIndex = (arr: number[], v: number) => {
  let best = 0;
  arr.forEach((a, i) => {
    if (Math.abs(a - v) < Math.abs(arr[best] - v)) best = i;
  });
  return best;
};

const GeneTick = (color: string, xs: number[], top: number) => (props: any) => {
  const { x, payload } = props;
  const g = nearestIndex(xs, payload.value);
  const y = AXIS_LABEL_BOTTOM - top;
  return (
    <text x={x} y={y} transform={`rotate(-90 ${x} ${y})`} textAnchor="start" dominantBaseline="central" fill={color} fontSize={38} fontFamily={FONT}>
      {genes[g]}
    </text>
  );
};

const CellTypeTick = (chartLeft: number) => (props: any) => {
  const { y, payload } = props;
  const r = nearestIndex(rowPos, payload.value);
  return (
    <text x={LABEL_X - chartLeft} y={y} textAnchor="middle" dominantBaseline="central" fill={groupColors[groupOfRow[r]]} fontSize={39} fontFamily={FONT}>
      {markup(cellTypes[r], 39)}
    </text>
  );
};

const panelBorders = (panels: number[][]) =>
  groupSizes.flatMap((n, gi) =>
    panels.map(([x1, x2], pi) => (
      <ReferenceArea
        key={`b${gi}-${pi}`}
        x1={x1}
        x2={x2}
        y1={rowPos[groupFirst[gi]] - 0.5}
        y2={rowPos[groupFirst[gi] + n - 1] + 0.5}
        fill="none"
        fillOpacity={0}
        stroke="#000"
        strokeWidth={2.5}
        ifOverflow="visible"
      />
    ))
  );

export default function App() {
  const rnaTop = TOP - 4;
  const protMargin = 40;
  const protTop = TOP - protMargin;
  const rnaChartLeft = RNA_LEFT - 4;
  const protChartLeft = 1390;
  const yAxisW = PROT_LEFT - protChartLeft;

  return (
    <div style={{ position: "absolute", left: 0, top: 0, width: 3393, height: 2445, background: "#fff", overflow: "hidden", fontFamily: FONT }}>
      {/* legend */}
      <svg style={{ position: "absolute", left: 0, top: 0 }} width={1400} height={520}>
        <g fontFamily={FONT} fill="#000">
          <text x={262} y={113} fontSize={38.5} fontWeight={700} dominantBaseline="central">% expression in group</text>
          <text x={668} y={113} fontSize={38.5} fontWeight={700} dominantBaseline="central">% expression in group</text>
          <text x={1072} y={113} fontSize={38.5} fontWeight={700} dominantBaseline="central">PPI Type</text>
          {rnaLegendPct.map((p, i) => (
            <g key={`rl${i}`}>
              <path d={plusPath(279, 169 + i * 76.3, plusExtent(p))} fill="#e05aa5" />
              <text x={326} y={169 + i * 76.3} fontSize={37} dominantBaseline="central">{p}%</text>
            </g>
          ))}
          {protLegendPct.map((p, i) => (
            <g key={`pl${i}`}>
              <path d={starPath(684, 169 + i * 76.3, starExtent(p))} fill="#e1620f" />
              <text x={733} y={169 + i * 76.3} fontSize={37} dominantBaseline="central">{p}%</text>
            </g>
          ))}
          <rect x={1072} y={147} width={40} height={41} fill={HETERO} />
          <text x={1132} y={168} fontSize={37} dominantBaseline="central">Hetero</text>
          <rect x={1072} y={204} width={40} height={41} fill={HOMO} />
          <text x={1132} y={225} fontSize={37} dominantBaseline="central">Homo</text>
        </g>
      </svg>

      {/* titles */}
      <div style={{ position: "absolute", left: RNA_LEFT, width: RNA_W, top: 573, textAlign: "center", fontSize: 43, lineHeight: "52px", color: "#000" }}>
        Transcriptomics Profile
      </div>
      <div style={{ position: "absolute", left: PROT_LEFT, width: PROT_W, top: 573, textAlign: "center", fontSize: 43, lineHeight: "52px", color: "#000" }}>
        Proteomics Profile
      </div>

      {/* dendrogram */}
      <div style={{ position: "absolute", left: 0, top: rnaTop }}>
        <ScatterChart width={182} height={PLOT_H + 8} margin={{ top: 4, right: 0, bottom: 4, left: 0 }}>
          <XAxis type="number" dataKey="x" domain={[-62, 120]} reversed hide allowDataOverflow />
          <YAxis type="number" dataKey="y" domain={Y_DOMAIN} reversed hide allowDataOverflow />
          <ReferenceLine
            segment={[{ x: cutHeight, y: rowPos[0] }, { x: cutHeight, y: rowPos[rowPos.length - 1] }]}
            stroke="#4b1f5e"
            strokeWidth={3.5}
            strokeDasharray="9 6"
            ifOverflow="visible"
          />
          {dendroSegs.map((s, i) => (
            <Scatter
              key={`d${i}`}
              data={s.pts}
              fill={s.color}
              line={{ stroke: s.color, strokeWidth: 3 }}
              lineType="joint"
              shape={NoDot}
              isAnimationActive={false}
            />
          ))}
        </ScatterChart>
      </div>

      {/* group boxes */}
      {groupNames.map((name, gi) => (
        <div
          key={name}
          style={{
            position: "absolute",
            left: 120,
            width: 61,
            top: groupTop[gi],
            height: groupSizes[gi] * BAND,
            background: groupColors[gi],
            display: "flex",
            alignItems: "center",
            justifyContent: "center",
          }}
        >
          <div style={{ transform: "rotate(-90deg)", whiteSpace: "nowrap", color: groupTextColors[gi], fontSize: 38 }}>{name}</div>
        </div>
      ))}

      {/* transcriptomics */}
      <div style={{ position: "absolute", left: rnaChartLeft, top: rnaTop }}>
        <ScatterChart width={RNA_W + 8} height={PLOT_H + 4 + 200} margin={{ top: 4, right: 4, bottom: 0, left: 4 }}>
          <XAxis
            type="number"
            dataKey="x"
            domain={RNA_DOMAIN}
            allowDataOverflow
            ticks={rnaX}
            interval={0}
            height={200}
            axisLine={false}
            tickLine={false}
            tick={GeneTick("#3b2b6c", rnaX, rnaTop)}
          />
          <YAxis type="number" dataKey="y" domain={Y_DOMAIN} reversed hide allowDataOverflow />
          <Scatter data={rnaPoints} shape={PlusDot} isAnimationActive={false} />
          {panelBorders([[-0.5, 12.5], [12.5 + RNA_SPLIT, 27.5 + RNA_SPLIT]])}
        </ScatterChart>
      </div>

      {/* category bars */}
      <div style={{ position: "absolute", left: RNA_LEFT, top: 2027, width: 13 * RNA_COL, height: 62, background: "#557189", color: "#fff", fontSize: 38.5, display: "flex", alignItems: "center", justifyContent: "center" }}>
        Cluster of Differentiation
      </div>
      <div style={{ position: "absolute", left: RNA_LEFT + (13 + RNA_SPLIT) * RNA_COL, top: 2027, width: 15 * RNA_COL, height: 62, background: "#cab27b", color: "#1e1e1e", fontSize: 38.5, display: "flex", alignItems: "center", justifyContent: "center" }}>
        Other Immune
      </div>

      {/* proteomics with cell type labels */}
      <div style={{ position: "absolute", left: protChartLeft, top: protTop }}>
        <ScatterChart width={yAxisW + PROT_W + 4} height={PLOT_H + protMargin + 200} margin={{ top: protMargin, right: 4, bottom: 0, left: 0 }}>
          <XAxis
            type="number"
            dataKey="x"
            domain={[-0.5, 27.5]}
            allowDataOverflow
            ticks={protX}
            interval={0}
            height={200}
            axisLine={false}
            tickLine={false}
            tick={GeneTick("#e4681b", protX, protTop)}
          />
          <YAxis
            type="number"
            dataKey="y"
            domain={Y_DOMAIN}
            reversed
            allowDataOverflow
            width={yAxisW}
            ticks={rowPos}
            interval={0}
            axisLine={false}
            tickLine={false}
            tick={CellTypeTick(protChartLeft)}
          />
          <Scatter data={protPoints} shape={StarDot} isAnimationActive={false} />
          {panelBorders([[-0.5, 27.5]])}
        </ScatterChart>
      </div>

      {/* PPI arcs */}
      <div style={{ position: "absolute", left: PROT_LEFT - 4, top: 2022 }}>
        <ScatterChart width={PROT_W + 8} height={400} margin={{ top: 4, right: 4, bottom: 4, left: 4 }}>
          <XAxis type="number" dataKey="x" domain={[-0.5, 27.5]} hide allowDataOverflow />
          <YAxis type="number" dataKey="y" domain={[0, 1]} hide allowDataOverflow />
          {ppiHetero.map(([a, b], i) => (
            <Scatter
              key={`h${i}`}
              data={[{ x: genes.indexOf(a), y: 1 }, { x: genes.indexOf(b), y: 1 }]}
              line={arcLine(HETERO)}
              lineType="joint"
              shape={NoDot}
              isAnimationActive={false}
            />
          ))}
          {ppiHomo.map(([a, b], i) => (
            <Scatter
              key={`o${i}`}
              data={[{ x: genes.indexOf(a), y: 1 }, { x: genes.indexOf(b), y: 1 }]}
              line={arcLine(HOMO)}
              lineType="joint"
              shape={NoDot}
              isAnimationActive={false}
            />
          ))}
        </ScatterChart>
      </div>

      {/* cell counts */}
      {groupSizes.map((n, gi) => {
        const last = gi === groupSizes.length - 1;
        const data = cellCounts.slice(groupFirst[gi], groupFirst[gi] + n).map((c, k) => ({ id: `r${groupFirst[gi] + k}`, count: c }));
        return (
          <div key={`bar${gi}`} style={{ position: "absolute", left: BAR_LEFT - BAR_PAD, top: groupTop[gi] - 6 }}>
            <BarChart
              layout="vertical"
              width={3393 - (BAR_LEFT - BAR_PAD)}
              height={n * BAND + 12 + (last ? 70 : 0)}
              data={data}
              margin={{ top: 6, right: 3393 - BAR_LEFT - 200, bottom: 6, left: BAR_PAD }}
            >
              <XAxis
                type="number"
                domain={[0, 66500]}
                allowDataOverflow
                hide={!last}
                ticks={[0, 50000]}
                height={70}
                axisLine={{ stroke: "#000", strokeWidth: 2 }}
                tickLine={{ stroke: "#000", strokeWidth: 2 }}
                tickSize={8}
                tick={{ fill: "#000", fontSize: 36, fontFamily: FONT }}
              />
              <YAxis type="category" dataKey="id" hide />
              <Bar dataKey="count" fill="#b50000" barSize={34} isAnimationActive={false}>
                <LabelList dataKey="count" position="right" offset={6} fill="#000" fontSize={37} fontFamily={FONT} />
              </Bar>
            </BarChart>
          </div>
        );
      })}
    </div>
  );
}
